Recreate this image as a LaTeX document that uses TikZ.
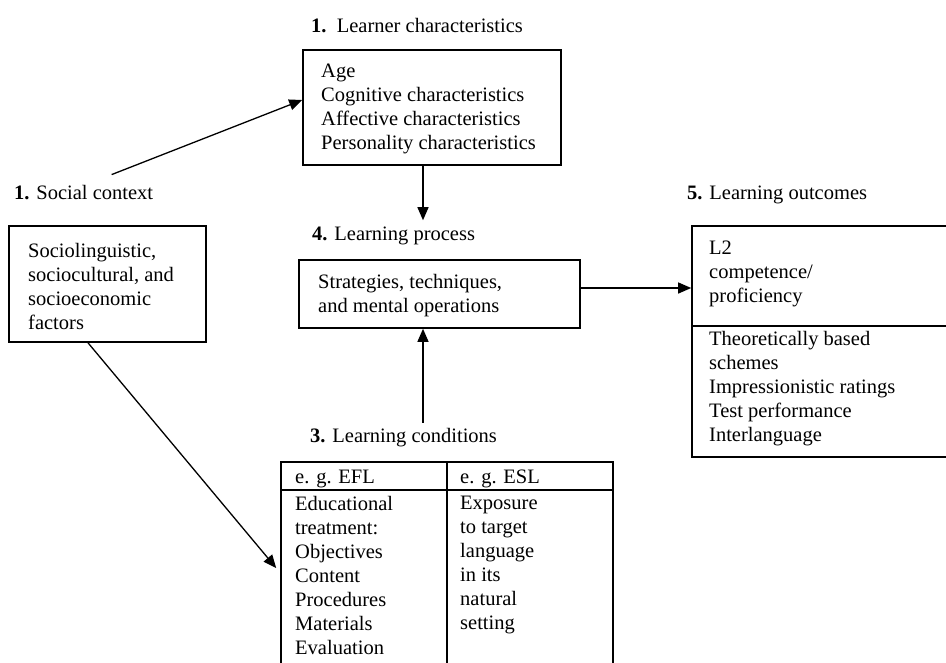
\documentclass[tikz,border=0pt]{standalone}
\usepackage{fontspec}
\setmainfont{Liberation Serif}
\usetikzlibrary{arrows.meta,positioning,calc}

\begin{document}
\begin{tikzpicture}[x = 1pt, y = -1pt, >={Triangle[length=13pt, width=11pt]},
    box/.style = {draw, line width = 1.6pt, inner sep = 0pt},
    txt/.style = {anchor = north west, align = left, inner sep = 0pt, font = \fontsize{20.5}{24}\selectfont},
    lbl/.style = {anchor = base west, inner sep = 0pt, font = \fontsize{20.5}{24}\selectfont},
    arr/.style = {->, line width = 1.3pt}]
    \useasboundingbox (0,0) rectangle (946,662);
    \clip (0,0) rectangle (946,662);
    \node[box, minimum width = 258, minimum height = 115] (learner) at (432,107.5) {};
    \node[box, minimum width = 197, minimum height = 116] (social) at (107.5,284) {};
    \node[box, minimum width = 281, minimum height = 68] (process) at (439.5,294) {};
    \node[box, minimum width = 270, minimum height = 100] (outtop) at (827,276) {};
    \node[box, minimum width = 270, minimum height = 131] (outbot) at (827,391.5) {};
    \node[box, minimum width = 166, minimum height = 28] (eflhead) at (364,476) {};
    \node[box, minimum width = 166, minimum height = 28] (eslhead) at (530,476) {};
    \node[box, minimum width = 166, minimum height = 190] (eflbody) at (364,585) {};
    \node[box, minimum width = 166, minimum height = 190] (eslbody) at (530,585) {};
    \node[txt] (learnertxt) at (321,64) {Age\\Cognitive characteristics\\Affective characteristics\\Personality characteristics};
    \node[txt] (socialtxt) at (28,243) {Sociolinguistic,\\sociocultural, and\\socioeconomic\\factors};
    \node[txt] (processtxt) at (318,274) {Strategies, techniques,\\and mental operations};
    \node[txt] (outtoptxt) at (709,241) {L2\\competence/\\proficiency};
    \node[txt] (outbottxt) at (709,331) {Theoretically based\\schemes\\Impressionistic ratings\\Test performance\\Interlanguage};
    \node[lbl] (eflheadtxt) at (295,483) {e. g. EFL};
    \node[lbl] (eslheadtxt) at (460,483) {e. g. ESL};
    \node[txt] (eflbodytxt) at (295,496) {Educational\\treatment:\\Objectives\\Content\\Procedures\\Materials\\Evaluation};
    \node[txt] (eslbodytxt) at (460,496) {Exposure\\to target\\language\\in its\\natural\\setting};
        % Labels
    \node[lbl] (learnerlbl) at (311,32) {\textbf{1.}\ \ Learner characteristics};
    \node[lbl] (proclbl) at (312,240) {\textbf{4.} Learning process};
    \node[lbl] (outlbl) at (687,199) {\textbf{5.} Learning outcomes};
    \node[lbl] (soclbl) at (14,199) {\textbf{1.} Social context};
    \node[lbl] (condlbl) at (310,442) {\textbf{3.} Learning conditions};
    \draw[arr] ([xshift = 28pt, yshift = 10pt]soclbl.north) -- ([yshift = 7.5pt]learner.west);
    \draw[arr] ([xshift = -9pt]learner.south) -- ([xshift = -9pt, yshift = 6pt]learner.south |- proclbl.north);
    \draw[arr] ([xshift = -16.5pt, yshift = 5pt]process.south |- condlbl.north) -- ([xshift = -16.5pt]process.south);
    \draw[arr] ([yshift = 6pt]process.east) -- ([yshift = 6pt]process.east -| outtop.west);
    \draw[arr] ([xshift = -19.5pt]social.south) -- ([xshift = -4pt, yshift = 17pt]eflbody.west);
\end{tikzpicture}
\end{document}
